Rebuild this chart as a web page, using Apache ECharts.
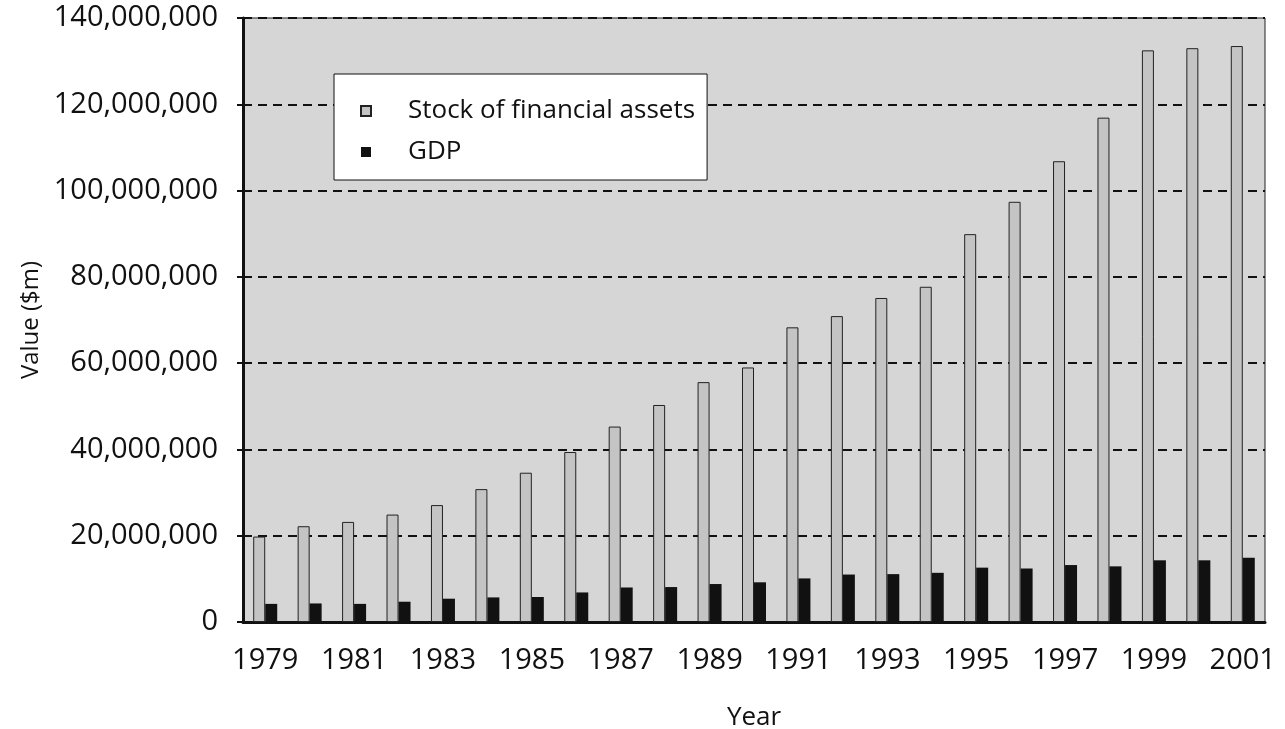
<!DOCTYPE html>
<html>
<head>
<meta charset="utf-8">
<title>Stock of financial assets and GDP</title>
<script src="https://cdn.jsdelivr.net/npm/echarts@6/dist/echarts.min.js"></script>
<style>
    html, body { margin: 0; padding: 0; background: #ffffff; }
    #chart { width: 1285px; height: 729px; }
</style>
</head>
<body>
<div id="chart"></div>
<script>
// data, $m
var years = ['1979', '1980', '1981', '1982', '1983', '1984', '1985', '1986', '1987', '1988', '1989', '1990',
    '1991', '1992', '1993', '1994', '1995', '1996', '1997', '1998', '1999', '2000', '2001'];
var stock = [19800000, 22200000, 23200000, 24900000, 27100000, 30800000, 34600000, 39400000, 45300000, 50300000,
    55600000, 59000000, 68300000, 70900000, 75100000, 77700000, 89900000, 97400000, 106800000, 116900000,
    132500000, 133000000, 133500000];
var gdp = [4200000, 4300000, 4200000, 4700000, 5400000, 5700000, 5800000, 6850000, 8000000, 8100000,
    8800000, 9200000, 10100000, 11000000, 11100000, 11400000, 12600000, 12400000, 13200000, 12900000,
    14300000, 14300000, 14900000];
var seriesNames = ['Stock of financial assets', 'GDP'];

var font = 'Open Sans';

window.onload = function () {
    var chart = echarts.init(document.getElementById('chart'));

    var option = {
        animation: false,
        backgroundColor: '#ffffff',
        textStyle: { fontFamily: font, color: '#111' },
        grid: {
            left: 243,
            right: 20,
            top: 18,
            bottom: 107,
            outerBoundsMode: 'none',
            containLabel: false,
            show: true,
            backgroundColor: '#d6d6d6',
            borderColor: '#222',
            borderWidth: 1
        },
        legend: {
            data: seriesNames,
            orient: 'vertical',
            left: 334,
            top: 74,
            icon: 'rect',
            backgroundColor: '#ffffff',
            borderColor: '#111',
            borderWidth: 1,
            padding: [22, 12, 13, 26],
            itemWidth: 10,
            itemHeight: 10,
            itemGap: 11,
            selectedMode: false,
            textStyle: {
                fontFamily: font,
                fontSize: 26,
                lineHeight: 30,
                color: '#111',
                padding: [0, 0, 0, 32]
            }
        },
        xAxis: {
            type: 'category',
            data: years,
            name: 'Year',
            nameLocation: 'middle',
            nameGap: 83,
            nameTextStyle: { fontSize: 26, color: '#111' },
            axisLine: { lineStyle: { color: '#111', width: 3 } },
            axisTick: {
                alignWithLabel: true,
                interval: 1,
                length: 10,
                lineStyle: { color: '#111', width: 3 }
            },
            axisLabel: {
                interval: 1,
                margin: 24,
                fontSize: 29,
                color: '#111'
            }
        },
        yAxis: {
            type: 'value',
            min: 0,
            max: 140000000,
            interval: 20000000,
            name: 'Value ($m)',
            nameLocation: 'middle',
            nameGap: 200,
            nameTextStyle: { fontSize: 24, color: '#111' },
            axisLine: { show: true, lineStyle: { color: '#111', width: 3 } },
            axisTick: { show: true, length: 6, lineStyle: { color: '#111', width: 2 } },
            axisLabel: {
                margin: 25,
                fontSize: 29,
                color: '#111',
                formatter: function (v) { return v.toLocaleString('en-US'); }
            },
            splitLine: {
                show: true,
                lineStyle: { color: '#111', width: 2, type: [9, 6] }
            }
        },
        series: [{
            name: seriesNames[0],
            type: 'bar',
            data: stock,
            barWidth: 12,
            barGap: '0%',
            itemStyle: { color: '#c4c4c4', borderColor: '#222', borderWidth: 1 }
        }, {
            name: seriesNames[1],
            type: 'bar',
            data: gdp,
            barWidth: 12,
            itemStyle: { color: '#111111' }
        }]
    };

    chart.setOption(option, true);
};
</script>
</body>
</html>
